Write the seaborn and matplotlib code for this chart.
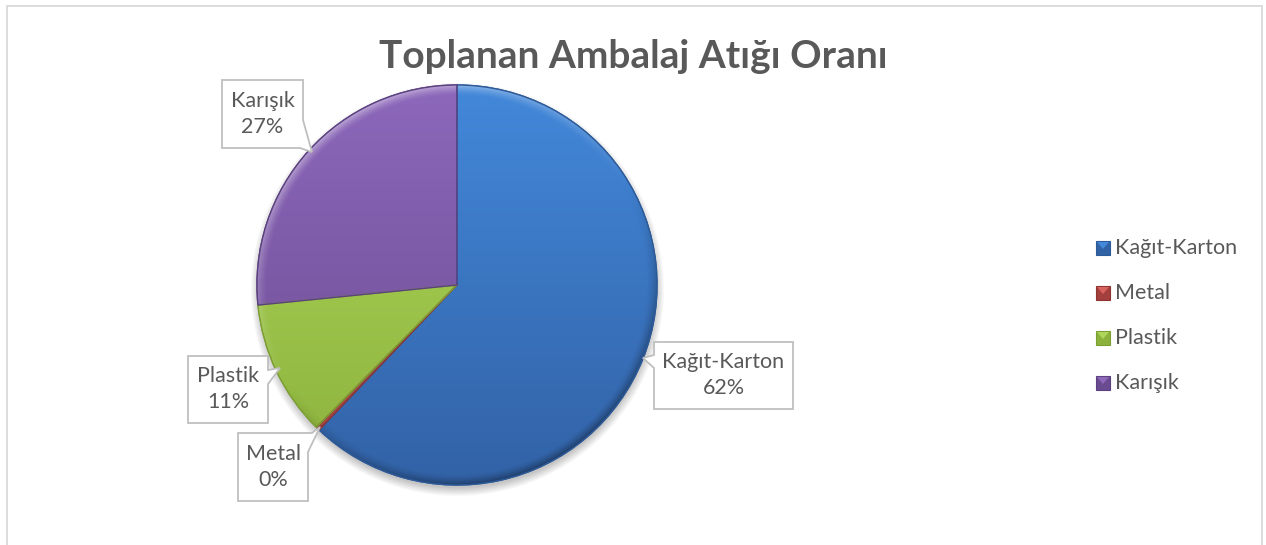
import numpy as np
import matplotlib
matplotlib.use("Agg")
import matplotlib.pyplot as plt
from matplotlib.patches import Rectangle, Polygon, Circle, Wedge
from matplotlib.colors import LinearSegmentedColormap
import seaborn as sns

# ---- data -------------------------------------------------------------
title = "Toplanan Ambalaj Atığı Oranı"
categories = ["Kağıt-Karton", "Metal", "Plastik", "Karışık"]
shares = [62.1, 0.3, 11.0, 26.6]

# ---- style ------------------------------------------------------------
sns.set_theme(style="white")
plt.rcParams["font.family"] = ["Lato", "DejaVu Sans"]

base_colors = sns.color_palette(["#3B79C6", "#C0504D", "#9BC445", "#7B58A6"])
top_colors = ["#4388DA", "#D8625E", "#AED65A", "#8D68BB"]
bottom_colors = ["#3262A6", "#A33F3C", "#8CB23C", "#6A4B90"]
edge_colors = ["#2D5A98", "#8E3532", "#7C9F33", "#5C4180"]
text_color = "#595959"

W, H = 1266, 545
fig = plt.figure(figsize=(W / 100, H / 100), dpi=100)
ax = fig.add_axes([0, 0, 1, 1])
fig.patch.set_facecolor("white")

cx, cy, r = 457, H - 285, 200  # pie centre and radius in pixel units

# soft drop shadow under the pie
yy, xx = np.mgrid[0:H, 0:W]
d_sh = np.hypot(xx - cx, (H - yy) - (cy - 4))
sh_alpha = np.clip((r + 7 - d_sh) / 9, 0, 1) * 0.35
shadow = np.zeros((H, W, 4))
shadow[..., :3] = 0.35
shadow[..., 3] = sh_alpha
ax.imshow(shadow, extent=(0, W, 0, H), origin="upper", zorder=1, interpolation="bilinear")

wedges, _ = ax.pie(
    shares,
    colors=base_colors,
    startangle=90,
    counterclock=False,
    center=(cx, cy),
    radius=r,
    frame=True,
    wedgeprops=dict(linewidth=1.0, zorder=2),
)

# vertical gradient inside each slice
grad = np.linspace(0, 1, 256).reshape(-1, 1)
for w, tc, bc, ec in zip(wedges, top_colors, bottom_colors, edge_colors):
    w.set_edgecolor(ec)
    cmap = LinearSegmentedColormap.from_list("g", [bc, tc])
    im = ax.imshow(grad, extent=(cx - r, cx + r, cy - r, cy + r), origin="lower",
                   cmap=cmap, aspect="auto", zorder=2.1, interpolation="bilinear")
    im.set_clip_path(w)

# bevel along the rim: light towards the top-left, dark towards the bottom-right
n = 2 * r
gy, gx = np.mgrid[0:n, 0:n]
dx = gx + 0.5 - r
dy = r - (gy + 0.5)
dist = np.hypot(dx, dy)
edge = np.clip((dist - (r - 11)) / 11, 0, 1) ** 1.5
ang = np.arctan2(dy, dx)
light = np.cos(ang - np.deg2rad(120))
bevel = np.zeros((n, n, 4))
hi = np.clip(light, 0, 1) * edge * 0.45
lo = np.clip(-light, 0, 1) * edge * 0.40
bevel[..., :3] = np.where(light[..., None] > 0, 1.0, 0.0)
bevel[..., 3] = hi + lo
clip_circle = Circle((cx, cy), r, transform=ax.transData)
bim = ax.imshow(bevel, extent=(cx - r, cx + r, cy - r, cy + r), origin="upper",
                zorder=2.2, interpolation="bilinear")
bim.set_clip_path(clip_circle)

# slice outlines above the shading
for w, ec in zip(wedges, edge_colors):
    ax.add_patch(Wedge((cx, cy), r, w.theta1, w.theta2,
                       facecolor="none", edgecolor=ec, lw=1.0, zorder=2.3))

# ---- callout labels ---------------------------------------------------
box_edge = "#BFBFBF"
label_fs = 15.5


def callout(x0, y0, x1, y1, notch, lines, fs=label_fs):
    """Box given in pixel coords (top-left origin) with a pointer notch."""
    pts = notch(x0, y0, x1, y1)
    pts = [(px, H - py) for px, py in pts]
    ax.add_patch(Polygon(pts, closed=True, facecolor="white", edgecolor=box_edge,
                         lw=1.3, zorder=5, joinstyle="miter"))
    xc = (x0 + x1) / 2
    yc = (y0 + y1) / 2
    ax.text(xc, H - (yc - 13), lines[0], ha="center", va="center",
            fontsize=fs, color=text_color, zorder=6)
    ax.text(xc, H - (yc + 13), lines[1], ha="center", va="center",
            fontsize=fs, color=text_color, zorder=6)


def notch_left(tip, ya, yb):
    def f(x0, y0, x1, y1):
        return [(x0, y0), (x1, y0), (x1, y1), (x0, y1), (x0, yb), tip, (x0, ya)]
    return f


def notch_right(tip, ya, yb):
    def f(x0, y0, x1, y1):
        return [(x0, y0), (x1, y0), (x1, ya), tip, (x1, yb), (x1, y1), (x0, y1)]
    return f


def notch_right_bottom(tip, ya, xb):
    def f(x0, y0, x1, y1):
        return [(x0, y0), (x1, y0), (x1, ya), tip, (xb, y1), (x0, y1)]
    return f


def notch_right_top(tip, xa, yb):
    def f(x0, y0, x1, y1):
        return [(x0, y0), (xa, y0), tip, (x1, yb), (x1, y1), (x0, y1)]
    return f


pct = [f"{v:.0f}%" for v in shares]

callout(654, 342, 793, 409, notch_left((643, 358), 355, 368),
        [categories[0], pct[0]])
callout(238, 433, 308, 501, notch_right_top((320, 427), 312, 452),
        [categories[1], pct[1]])
callout(188, 356, 268, 423, notch_right((280, 368), 370, 384),
        [categories[2], pct[2]])
callout(222, 80, 303, 148, notch_right_bottom((312, 152), 120, 300),
        [categories[3], pct[3]])

# ---- legend -----------------------------------------------------------
leg_y = [248, 293, 338, 383]
for cat, ly, tc, bc, ec in zip(categories, leg_y, top_colors, bottom_colors, edge_colors):
    ax.add_patch(Rectangle((1096, H - ly - 7), 14, 14, facecolor=bc,
                           edgecolor=ec, lw=0.8, zorder=5))
    ax.add_patch(Polygon([(1097, H - ly + 6), (1109, H - ly + 6), (1103, H - ly - 1)],
                         closed=True, facecolor=tc, edgecolor="none", zorder=6))
    ax.text(1115, H - ly, cat, ha="left", va="center", fontsize=label_fs,
            color=text_color, zorder=6)

# ---- title and frame --------------------------------------------------
ax.text(W / 2, H - 57, title, ha="center", va="center", fontsize=28,
        fontweight="bold", color=text_color, zorder=6)

ax.plot([6.5, 6.5, 1261.5, 1261.5], [0, H - 5.5, H - 5.5, 0], color="#D9D9D9",
        lw=1.3, zorder=7, solid_joinstyle="miter")

ax.set_xlim(0, W)
ax.set_ylim(0, H)
ax.set_aspect("auto")
ax.axis("off")

fig.savefig("out.png", dpi=100, facecolor="white")
